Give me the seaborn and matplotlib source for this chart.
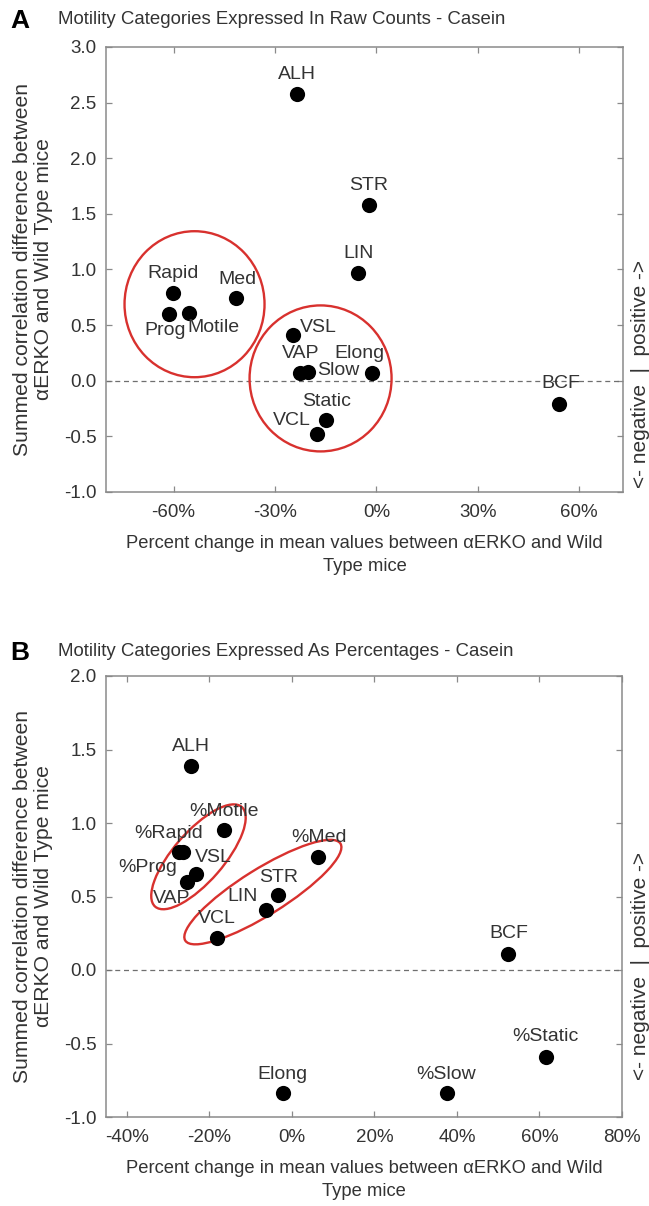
import numpy as np
import pandas as pd
import matplotlib
matplotlib.use("Agg")
import matplotlib.pyplot as plt
import seaborn as sns
from matplotlib.patches import Ellipse
from matplotlib.transforms import ScaledTranslation
from matplotlib.ticker import FuncFormatter

# ---------------- data ----------------
a_labels = ["ALH", "STR", "LIN", "Rapid", "Med", "Prog", "Motile", "VSL",
            "VAP", "Slow", "Elong", "Static", "VCL", "BCF"]
a_pct = [-23.5, -2.3, -5.3, -60.3, -41.6, -61.3, -55.5, -24.7,
         -22.5, -20.2, -1.2, -14.8, -17.7, 54.0]
a_corr = [2.58, 1.58, 0.97, 0.79, 0.74, 0.60, 0.61, 0.41,
          0.07, 0.08, 0.07, -0.35, -0.48, -0.21]

b_labels = ["ALH", "%Motile", "%Rapid", "%Prog", "VSL", "VAP", "%Med",
            "STR", "LIN", "VCL", "BCF", "%Static", "Elong", "%Slow"]
b_pct = [-24.5, -16.4, -26.3, -27.3, -23.2, -25.3, 6.4,
         -3.3, -6.3, -18.2, 52.5, 61.5, -2.2, 37.5]
b_corr = [1.39, 0.95, 0.80, 0.80, 0.65, 0.60, 0.77,
          0.51, 0.41, 0.22, 0.11, -0.59, -0.84, -0.84]

a_xticks = [-60, -30, 0, 30, 60]
b_xticks = [-40, -20, 0, 20, 40, 60, 80]

title_a = "Motility Categories Expressed In Raw Counts - Casein"
title_b = "Motility Categories Expressed As Percentages - Casein"
xlabel = "Percent change in mean values between \u03b1ERKO and Wild\nType mice"
ylabel = "Summed correlation difference between\n\u03b1ERKO and Wild Type mice"
side_text = "<- negative  |  positive ->"

# ---------------- label offsets (pixels) ----------------
a_offsets = {"ALH": (0, 19), "STR": (0, 19), "LIN": (0, 19), "Rapid": (0, 19),
             "Med": (2, 19), "Prog": (-4, -17), "Motile": (25, -15),
             "VSL": (25, 8), "VAP": (0, 19), "Slow": (30, 1),
             "Elong": (-13, 19), "Static": (0, 18), "VCL": (-25, 14),
             "BCF": (2, 21)}
b_offsets = {"ALH": (0, 19), "%Motile": (0, 19), "%Rapid": (-15, 19),
             "%Prog": (-31, -15), "VSL": (17, 17), "VAP": (-16, -17),
             "%Med": (1, 19), "STR": (0, 18), "LIN": (-23, 13),
             "VCL": (0, 19), "BCF": (0, 20), "%Static": (0, 20),
             "Elong": (0, 19), "%Slow": (0, 19)}

# ---------------- style ----------------
sns.set_style("ticks")
plt.rcParams["font.family"] = ["Liberation Sans", "DejaVu Sans"]
TXT = "#333333"
SPINE = "#8a8a8a"
RED = "#d8312e"
FS = 14

W, H = 649, 1206
fig = plt.figure(figsize=(W / 100, H / 100), dpi=100)
fig.patch.set_facecolor("white")

axA = fig.add_axes([106 / W, 1 - 492 / H, 517 / W, 445 / H])
axB = fig.add_axes([106 / W, 1 - 1117 / H, 516 / W, 441 / H])

dfA = pd.DataFrame({"label": a_labels, "pct": a_pct, "corr": a_corr})
dfB = pd.DataFrame({"label": b_labels, "pct": b_pct, "corr": b_corr})


def style_axes(ax, xlim, ylim, xticks, yticks):
    ax.set_xlim(*xlim)
    ax.set_ylim(*ylim)
    ax.set_xticks(xticks)
    ax.set_yticks(yticks)
    ax.xaxis.set_major_formatter(FuncFormatter(lambda v, p: f"{v:.0f}%"))
    ax.yaxis.set_major_formatter(FuncFormatter(lambda v, p: f"{v:.1f}"))
    ax.tick_params(axis="both", which="both", direction="in", length=4,
                   width=0.9, color=SPINE, labelcolor=TXT, labelsize=13.5,
                   top=True, right=True)
    ax.tick_params(axis="x", pad=9)
    ax.tick_params(axis="y", pad=7)
    for s in ax.spines.values():
        s.set_visible(True)
        s.set_color(SPINE)
        s.set_linewidth(1.1)
    ax.axhline(0, color="#6f6f6f", lw=0.9, ls=(0, (4, 3)), zorder=1)
    ax.set_xlabel(xlabel, fontsize=13.2, color=TXT, labelpad=10, linespacing=1.45)
    ax.set_ylabel(ylabel, fontsize=15.2, color=TXT, labelpad=8, linespacing=1.1)


def ring(ax, x, y, w_px, h_px, angle=0.0):
    tr = fig.dpi_scale_trans + ScaledTranslation(x, y, ax.transData)
    e = Ellipse((0, 0), w_px / 100, h_px / 100, angle=angle, transform=tr,
                fill=False, edgecolor=RED, lw=1.7, zorder=4)
    ax.add_patch(e)


def annotate(ax, df, offsets):
    for lab, x, y in zip(df["label"], df["pct"], df["corr"]):
        dx, dy = offsets[lab]
        ax.annotate(lab, (x, y), xytext=(dx, dy), textcoords="offset pixels",
                    ha="center", va="center", fontsize=FS, color=TXT, zorder=6)


for ax, df, offs in ((axA, dfA, a_offsets), (axB, dfB, b_offsets)):
    sns.scatterplot(data=df, x="pct", y="corr", ax=ax, color="black", s=120,
                    edgecolor="black", linewidth=0, legend=False, zorder=5)
    annotate(ax, df, offs)

style_axes(axA, (-80, 73), (-1.0, 3.0), a_xticks, np.arange(-1.0, 3.01, 0.5))
style_axes(axB, (-45, 80), (-1.0, 2.0), b_xticks, np.arange(-1.0, 2.01, 0.5))

# rings
ring(axA, -53.8, 0.688, 140, 146)
ring(axA, -16.5, 0.021, 142, 146)
ring(axB, -22.6, 0.77, 132, 50, 49)
ring(axB, -7.0, 0.53, 183, 46, 32)

# titles and panel letters
fig.text(10 / W, 1 - 21 / H, "A", fontsize=19, fontweight="bold", color="black",
         va="center", ha="left")
fig.text(58 / W, 1 - 20 / H, title_a, fontsize=13.4, color=TXT, va="center", ha="left")
fig.text(10 / W, 1 - 653 / H, "B", fontsize=19, fontweight="bold", color="black",
         va="center", ha="left")
fig.text(58 / W, 1 - 652 / H, title_b, fontsize=13.4, color=TXT, va="center", ha="left")

# side annotations
fig.text(640 / W, 1 - 374 / H, side_text, rotation=90, fontsize=15, color=TXT,
         va="center", ha="center")
fig.text(640 / W, 1 - 966 / H, side_text, rotation=90, fontsize=15, color=TXT,
         va="center", ha="center")

fig.savefig("out.png", dpi=100, facecolor="white")
